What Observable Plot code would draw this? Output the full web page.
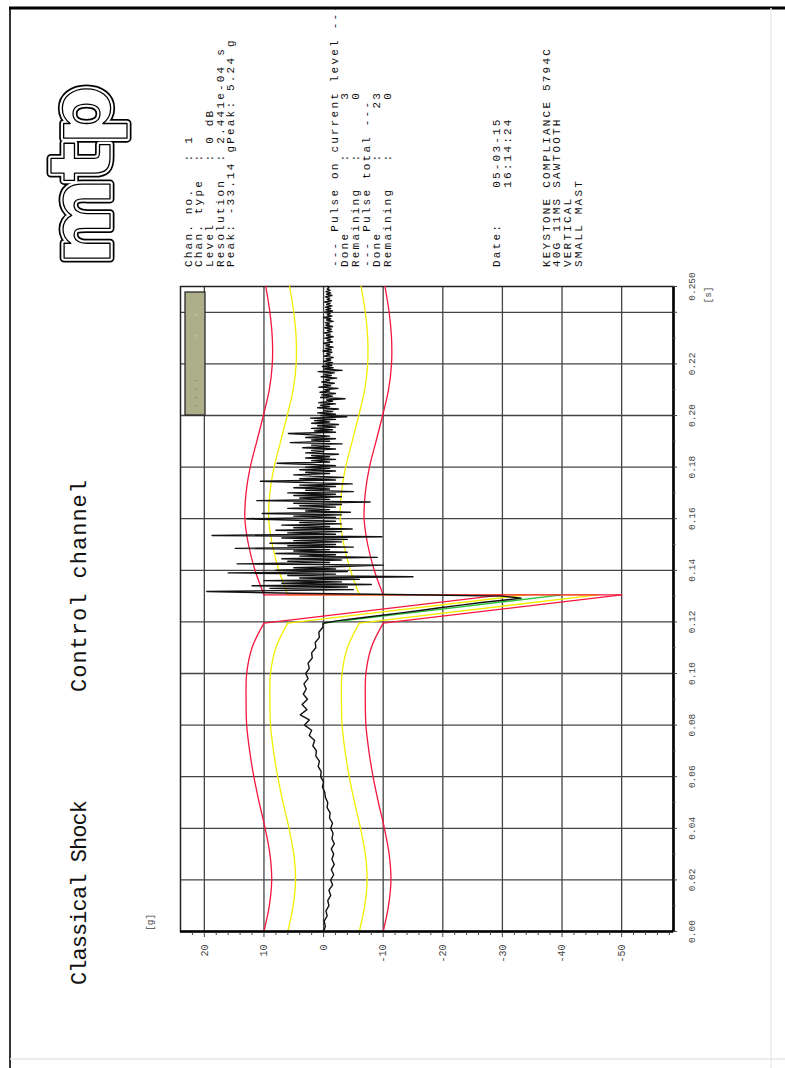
<!DOCTYPE html>
<html><head><meta charset="utf-8">
<script src="https://cdn.jsdelivr.net/npm/d3@7"></script>
<script src="https://cdn.jsdelivr.net/npm/@observablehq/plot@0.6"></script>
<style>
html,body{margin:0;padding:0;background:#fff;overflow:hidden;width:785px;height:1068px;}
#page{position:absolute;left:0;top:0;width:1068px;height:785px;transform-origin:0 0;transform:translate(0px,1068px) rotate(-90deg);background:#fff;overflow:hidden;}
#chart{position:absolute;left:0;top:0;}
#chart svg{display:block;}
#overlay{position:absolute;left:0;top:0;pointer-events:none;}
</style></head><body>
<div id="page"><div id="chart"></div><svg id="overlay" width="1068" height="785"></svg></div>
<script>
// ---------- data ----------
const tMin = 0, tMax = 0.25;
const gMin = -58.7, gMax = 24;

const tGrid = [0.02,0.04,0.06,0.08,0.10,0.12,0.14,0.16,0.18,0.20,0.22,0.24];
const tTickVals = [0,0.02,0.04,0.06,0.08,0.10,0.12,0.14,0.16,0.18,0.20,0.22,0.24,0.25];
const tTickLabels = ["0.00","0.02","0.04","0.06","0.08","0.10","0.12","0.14","0.16","0.18","0.20","0.22","","0.250"];
const tMinorVals = [0.01,0.03,0.05,0.07,0.09,0.11,0.13,0.15,0.17,0.19,0.21,0.23];

const gGrid = [20,10,0,-10,-20,-30,-40,-50];
const gTickVals = [20,10,0,-10,-20,-30,-40,-50];
const gTickLabels = ["20","10","0","-10","-20","-30","-40","-50"];
const gMinorVals = [22,18,16,14,12,8,6,4,2,-2,-4,-6,-8,-12,-14,-16,-18,-22,-24,-26,-28,-32,-34,-36,-38,-42,-44,-46,-48,-52,-54,-56,-58];

// tolerance bands
const tolPreT   = [0,0.01,0.02,0.03,0.04,0.05,0.06,0.07,0.08,0.09,0.10,0.11,0.1195];
const redUpPre  = [10,9.1,8.7,9.0,9.8,10.8,11.7,12.4,12.9,13.0,12.9,12.0,10];
const redLoPre  = [-10,-10.9,-11.3,-11.0,-10.2,-9.2,-8.3,-7.6,-7.1,-7.0,-7.1,-8.0,-10];
const yelUpPre  = [6,5.1,4.7,5.0,5.8,6.8,7.7,8.4,8.9,9.0,8.9,8.0,6];
const yelLoPre  = [-6,-6.9,-7.3,-7.0,-6.2,-5.2,-4.3,-3.6,-3.1,-3.0,-3.1,-4.0,-6];

const tolPostT  = [0.1305,0.14,0.15,0.16,0.17,0.18,0.19,0.20,0.21,0.22,0.23,0.24,0.25];
const redUpPost = [10,11.5,12.6,13.2,13.0,12.3,11.2,10.1,9.1,8.6,8.6,9.0,9.7];
const redLoPost = [-10,-8.5,-7.4,-6.8,-7.0,-7.7,-8.8,-9.9,-10.9,-11.4,-11.4,-11.0,-10.3];
const yelUpPost = [6,7.5,8.6,9.2,9.0,8.3,7.2,6.1,5.1,4.6,4.6,5.0,5.7];
const yelLoPost = [-6,-4.5,-3.4,-2.8,-3.0,-3.7,-4.8,-5.9,-6.9,-7.4,-7.4,-7.0,-6.3];

// pulse ramps (start / end of sawtooth)
const rampT = [0.1195,0.1305];
const redOuterG = [-10,-50];
const redInnerG = [10,-30];
const yelOuterG = [-6,-46];
const yelInnerG = [6,-34];
const idealG    = [0,-40];
const redTopG = [-50,10];
const yelTopG = [-46,6];
const topT = [0.1305,0.1305];

// measured signal
const preStart = 0, preStep = 0.002;
const preG = [0.0,-0.3,-0.1,-0.6,-0.4,-0.9,-0.7,-1.2,-0.9,-1.5,-1.2,-1.7,-1.3,-1.8,-1.4,-1.7,-1.3,-1.8,-1.4,-1.6,
  -1.2,-1.5,-1.0,-1.1,-0.6,-0.7,-0.3,-0.2,0.2,0.0,0.5,0.4,0.9,0.7,1.3,1.2,1.8,1.5,2.4,2.0,
  3.2,2.4,3.9,2.8,3.6,2.7,3.4,2.9,3.3,2.6,3.0,2.4,2.6,1.9,2.0,1.3,1.4,0.7,0.8,0.1];
const pulseT = [0.1195,0.1205,0.1215,0.1225,0.1235,0.1245,0.1255,0.1265,0.1275,0.1285,0.1292,0.1300,0.1304,0.1311,0.1318];
const pulseG = [0.1,-2.5,-6,-9.5,-13,-16.5,-19.5,-23,-26.5,-30.5,-33.14,-30,-18,5,19.6];
const postStart = 0.1325, postStep = 0.0005;
const postG = [
  -5,9,-4,12,-8,7,-3,10,-6,4,-15,6,-2,16,-4,
  8,-2,5,-3,-10,14.5,-1,6,-3,7,-9,4,-2,8,-4,5,-1,14.8,-5,6,-2,9,-3,5,-4,7,-9.8,18.7,-2,6,-3,8,-4.8,5,-1,7,-3,4,-2,6,
  12.9,-2,5,-3,10.3,-4.5,3,-1,6,-2,4,-3,5,-7.8,11.2,-1,4,-3,5,-2,6,-5,3,-1,5,-2,4,-4.8,3,10.6,-2,4,-3.3,2,5,-1,3,-2,4,-1,
  3,-2,2,7.8,-1,2,-2,3,-1,2,-2.5,3,0,2,-2,3.5,-1,2,-3.1,5.6,-1,2,-2,3,-1,2,5.9,-2,1.5,-1.5,2,-2,1,-2.5,2,-1,1.5,-2,2.2,-3.9,
  0.5,-2,1,-1.5,0,-2.5,1,-1,0.5,-2,0.8,-1.5,-0.5,-3.6,0.5,-1.5,0.3,-2,0.6,-1,-0.2,-2.4,0.8,-1.2,0,-1.8,0.3,-1,-0.3,-2.2,0.4,-1.3,-0.2,-1.8,0.9,-3.1,-0.1,-1.6,0.2,-1.4,
  -0.3,-1.5,0,-1.2,-0.4,-1.6,-0.1,-1.1,-0.5,-1.4,0.1,-1.3,-0.3,-1.6,-0.4,-1.0,0,-1.5,-0.6,-1.2,-0.2,-1.6,-0.5,-1.1,-0.1,-1.4,-0.6,-1.3,-0.2,-1.5,
  -0.4,-1.0,-0.3,-1.6,-0.5,-1.2,0,-1.4,-0.6,-1.1,-0.2,-1.5,-0.4,-1.2,-0.3,-1.4,-0.5,-1.1,-0.2,-1.3,-0.6,-1.0,-0.3,-1.4,-0.5,-1.2,-0.4,-1.1,-0.6,-0.9,-0.7];

// text blocks
const titleLeft = "Classical Shock";
const titleMain = "Control channel";
const chanLines = ["Chan. no.   : 1","Chan. type  :","Level       : 0 dB","Resolution  : 2.441e-04 s","Peak: -33.14 gPeak: 5.24 g"];
const pulseLines = ["--- Pulse on current level ---","Done        :      3","Remaining   :      0","--- Pulse total ---","Done        :     23","Remaining   :      0"];
const dateLines = ["Date:    05-03-15","         16:14:24"];
const noteLines = ["KEYSTONE COMPLIANCE 5794C","40G 11MS SAWTOOTH","VERTICAL","SMALL MAST"];

// ---------- build ----------
const rows = (ts, gs) => ts.map((t, i) => ({t, g: gs[i]}));
const signal = [
  ...preG.map((g, i) => ({t: preStart + i * preStep, g})),
  ...rows(pulseT, pulseG),
  ...postG.map((g, i) => ({t: postStart + i * postStep, g}))
];
const tLabelMap = new Map(tTickVals.map((v, i) => [v, tTickLabels[i]]));
const gLabelMap = new Map(gTickVals.map((v, i) => [v, gTickLabels[i]]));

const RED = "#f4163f", YEL = "#f2ee00", GRN = "#2fc43a", GRID = "#444";
const mono = "Liberation Mono, DejaVu Sans Mono, monospace";
const L = (data, stroke, curve) => Plot.line(data, {x: "t", y: "g", stroke, strokeWidth: 1.3, curve: curve || "linear"});

const chart = Plot.plot({
  width: 1068, height: 785,
  marginLeft: 136, marginRight: 287, marginTop: 180, marginBottom: 112,
  x: {domain: [tMin, tMax]},
  y: {domain: [gMin, gMax]},
  style: {background: "transparent", fontFamily: mono},
  marks: [
    Plot.ruleX(tGrid, {stroke: GRID, strokeWidth: 1.3}),
    Plot.ruleY(gGrid, {stroke: GRID, strokeWidth: 1.3}),
    Plot.frame({stroke: "#222", strokeWidth: 1.5}),
    L(rows(tolPreT, yelUpPre), YEL, "catmull-rom"),
    L(rows(tolPreT, yelLoPre), YEL, "catmull-rom"),
    L(rows(tolPostT, yelUpPost), YEL, "catmull-rom"),
    L(rows(tolPostT, yelLoPost), YEL, "catmull-rom"),
    L(rows(rampT, yelOuterG), YEL),
    L(rows(rampT, yelInnerG), YEL),
    L(rows(topT, yelTopG), YEL),
    L(rows(rampT, idealG), GRN),
    L(rows(tolPreT, redUpPre), RED, "catmull-rom"),
    L(rows(tolPreT, redLoPre), RED, "catmull-rom"),
    L(rows(tolPostT, redUpPost), RED, "catmull-rom"),
    L(rows(tolPostT, redLoPost), RED, "catmull-rom"),
    L(rows(rampT, redOuterG), RED),
    L(rows(rampT, redInnerG), RED),
    L(rows(topT, redTopG), RED),
    Plot.line(signal, {x: "t", y: "g", stroke: "#111", strokeWidth: 1.4}),
    Plot.ruleX([tMin], {stroke: "#000", strokeWidth: 2.6}),
    Plot.ruleY([gMin], {stroke: "#000", strokeWidth: 2.6}),
    Plot.axisX(tTickVals, {anchor: "bottom", tickSize: 4, tickPadding: 10.5, tickFormat: d => tLabelMap.get(d), fontSize: 9.5, fontFamily: mono, color: "#444", label: null}),
    Plot.axisX(tMinorVals, {anchor: "bottom", tickSize: 2.5, tickFormat: () => "", color: "#444", label: null}),
    Plot.axisY(gTickVals, {anchor: "left", tickSize: 5, tickPadding: 8, tickFormat: d => gLabelMap.get(d), fontSize: 10, fontFamily: mono, color: "#444", label: null}),
    Plot.axisY(gMinorVals, {anchor: "left", tickSize: 3, tickFormat: () => "", color: "#444", label: null})
  ]
});
document.getElementById("chart").appendChild(chart);

// ---------- overlay (titles, info text, logo, page borders) ----------
const ov = d3.select("#overlay");
ov.append("line").attr("x1", 1060).attr("y1", 9).attr("x2", 1060).attr("y2", 785).attr("stroke", "#000").attr("stroke-width", 3);
ov.append("line").attr("x1", 0).attr("y1", 10).attr("x2", 1061).attr("y2", 10).attr("stroke", "#000").attr("stroke-width", 1.6);
ov.append("line").attr("x1", 0).attr("y1", 771).attr("x2", 1060).attr("y2", 771).attr("stroke", "#ececec").attr("stroke-width", 1.5);
ov.append("line").attr("x1", 9).attr("y1", 10).attr("x2", 9).attr("y2", 785).attr("stroke", "#e6e6e6").attr("stroke-width", 1.5);

function txt(x, y, s, size, opts = {}) {
  const t = ov.append("text").attr("x", x).attr("y", y).attr("font-family", opts.family || mono)
    .attr("font-size", size).attr("fill", opts.fill || "#111").style("white-space", "pre").text(s);
  if (opts.len) t.attr("textLength", opts.len).attr("lengthAdjust", "spacing");
  if (opts.ls != null) t.attr("letter-spacing", opts.ls);
  if (opts.anchor) t.attr("text-anchor", opts.anchor);
  return t;
}
txt(83, 86, titleLeft, 22, {len: 185});
txt(376, 86, titleMain, 22, {len: 212});

const infoX = 801;
const chanY = [191.5, 202.2, 212.9, 223.6, 234.3];
const pulseY = [337.5, 348.2, 358.9, 369.6, 380.3, 391];
const dateY = [500, 510.7];
const noteY = [549.5, 560.2, 570.9, 581.6];
const infoOpts = {ls: 2.2, fill: "#111"};
chanLines.forEach((s, i) => txt(infoX, chanY[i], s, 11, infoOpts));
pulseLines.forEach((s, i) => txt(infoX, pulseY[i], s, 11, infoOpts));
dateLines.forEach((s, i) => txt(infoX, dateY[i], s, 11, infoOpts));
noteLines.forEach((s, i) => txt(infoX, noteY[i], s, 11, infoOpts));

txt(137, 153, "[g]", 9.5, {fill: "#444"});
txt(773, 711, "[s]", 9.5, {fill: "#444", anchor: "middle"});

// small legend box in plot corner
ov.append("rect").attr("x", 653).attr("y", 185).attr("width", 123).attr("height", 20)
  .attr("fill", "#adaf8b").attr("stroke", "#2a2a2a").attr("stroke-width", 1.3);
txt(660, 198, "· · · ·", 7, {fill: "#555"});
txt(730, 198, "·    ·", 7, {fill: "#eee"});

// mtp logo
const logo = (stroke, sw, fill) => ov.append("text").attr("x", 803).attr("y", 110)
  .attr("font-family", "DejaVu Sans, sans-serif").attr("font-weight", "bold").attr("font-size", 84)
  .attr("letter-spacing", -4).attr("fill", fill).attr("stroke", stroke).attr("stroke-width", sw)
  .attr("stroke-linejoin", "round").text("mtp");
logo("#000", 9, "#000");
logo("#fff", 5.5, "#fff");
logo("#000", 1.3, "#fff");
</script>
</body></html>
